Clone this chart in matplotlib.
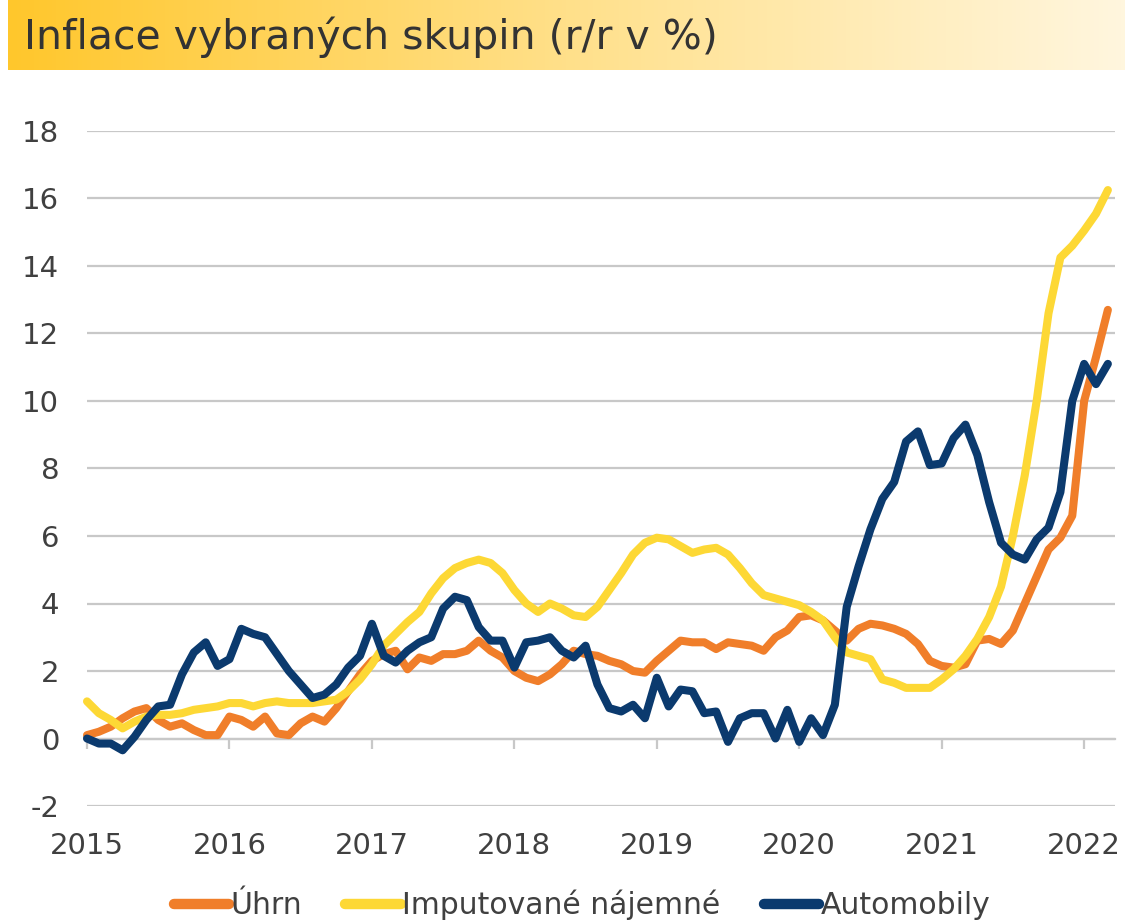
import numpy as np
import matplotlib
matplotlib.use("Agg")
import matplotlib.pyplot as plt
from matplotlib.colors import LinearSegmentedColormap

plt.rcParams["axes.unicode_minus"] = False

# --- Data: monthly y/y inflation, Jan 2015 .. Mar 2022 ----------------------
years = ["2015", "2016", "2017", "2018", "2019", "2020", "2021", "2022"]

uhrn = [
    0.1, 0.2, 0.35, 0.6, 0.8, 0.9, 0.55, 0.35, 0.45, 0.25, 0.1, 0.1,
    0.65, 0.55, 0.35, 0.65, 0.15, 0.1, 0.45, 0.65, 0.5, 0.9, 1.4, 1.9,
    2.3, 2.5, 2.6, 2.05, 2.4, 2.3, 2.5, 2.5, 2.6, 2.9, 2.6, 2.4,
    2.0, 1.8, 1.7, 1.9, 2.2, 2.6, 2.5, 2.45, 2.3, 2.2, 2.0, 1.95,
    2.3, 2.6, 2.9, 2.85, 2.85, 2.65, 2.85, 2.8, 2.75, 2.6, 3.0, 3.2,
    3.6, 3.65, 3.5, 3.2, 2.9, 3.25, 3.4, 3.35, 3.25, 3.1, 2.8, 2.3,
    2.15, 2.1, 2.2, 2.9, 2.95, 2.8, 3.2, 4.0, 4.8, 5.6, 5.95, 6.6,
    10.0, 11.3, 12.7,
]

najemne = [
    1.1, 0.75, 0.55, 0.3, 0.5, 0.65, 0.7, 0.7, 0.75, 0.85, 0.9, 0.95,
    1.05, 1.05, 0.95, 1.05, 1.1, 1.05, 1.05, 1.05, 1.1, 1.15, 1.4, 1.75,
    2.2, 2.75, 3.1, 3.45, 3.75, 4.3, 4.75, 5.05, 5.2, 5.3, 5.2, 4.9,
    4.4, 4.0, 3.75, 4.0, 3.85, 3.65, 3.6, 3.9, 4.4, 4.9, 5.45, 5.8,
    5.95, 5.9, 5.7, 5.5, 5.6, 5.65, 5.45, 5.05, 4.6, 4.25, 4.15, 4.05,
    3.95, 3.75, 3.5, 3.0, 2.55, 2.45, 2.35, 1.75, 1.65, 1.5, 1.5, 1.5,
    1.75, 2.05, 2.45, 2.95, 3.6, 4.5, 6.0, 7.8, 10.0, 12.6, 14.25, 14.6,
    15.05, 15.55, 16.25,
]

automobily = [
    0.0, -0.15, -0.15, -0.35, 0.05, 0.55, 0.95, 1.0, 1.9, 2.55, 2.85, 2.15,
    2.35, 3.25, 3.1, 3.0, 2.5, 2.0, 1.6, 1.2, 1.3, 1.6, 2.1, 2.45,
    3.4, 2.45, 2.25, 2.6, 2.85, 3.0, 3.85, 4.2, 4.1, 3.3, 2.9, 2.9,
    2.1, 2.85, 2.9, 3.0, 2.6, 2.4, 2.75, 1.6, 0.9, 0.8, 1.0, 0.6,
    1.8, 0.95, 1.45, 1.4, 0.75, 0.8, -0.1, 0.6, 0.75, 0.75, 0.0, 0.85,
    -0.1, 0.6, 0.1, 1.0, 3.9, 5.1, 6.2, 7.1, 7.6, 8.8, 9.1, 8.1,
    8.15, 8.9, 9.3, 8.4, 7.0, 5.8, 5.45, 5.3, 5.9, 6.25, 7.3, 10.0,
    11.1, 10.5, 11.1,
]

labels = ["Úhrn", "Imputované nájemné", "Automobily"]
colors = ["#F07E2A", "#FDD835", "#0B3A6E"]

months = np.arange(len(uhrn))
year_pos = np.arange(len(years)) * 12

W, H = 1125, 923
text_col = "#404040"
grid_col = "#C8C8C8"

fig = plt.figure(figsize=(W / 100, H / 100), dpi=100)

# --- Title bar with gradient ----------------------------------------------
tax = fig.add_axes([8 / W, 1 - 70 / H, 1 - 8 / W, 70 / H])
cmap = LinearSegmentedColormap.from_list("bar", ["#FFC72C", "#FFE08A", "#FFF6DE"])
tax.imshow(np.linspace(0, 1, 256).reshape(1, -1), cmap=cmap, aspect="auto",
           extent=[0, 1, 0, 1])
tax.set_axis_off()
fig.text(24 / W, 1 - 37 / H, "Inflace vybraných skupin (r/r v %)",
         fontsize=29.5, color="#333333", va="center", ha="left")

# --- Main chart -----------------------------------------------------------
ax = fig.add_axes([87 / W, 1 - 806 / H, (1115 - 87) / W, (806 - 131) / H])
for series, lab, col in zip([uhrn, najemne, automobily], labels, colors):
    ax.plot(months, series, color=col, lw=5.8, label=lab,
            solid_capstyle="round", solid_joinstyle="round", clip_on=False)

ax.set_xlim(0, 86.6)
ax.set_ylim(-2, 18)
ax.set_yticks(np.arange(-2, 19, 2))
ax.yaxis.grid(True, color=grid_col, lw=1.6)
ax.set_axisbelow(True)
for s in ["top", "right", "left"]:
    ax.spines[s].set_visible(False)
ax.spines["bottom"].set_position(("data", 0))
ax.spines["bottom"].set_color(grid_col)
ax.spines["bottom"].set_linewidth(1.6)
ax.spines["bottom"].set_zorder(0.5)
ax.set_xticks(year_pos)
ax.tick_params(axis="x", labelbottom=False, length=7, width=1.6,
               color=grid_col, direction="out")
ax.tick_params(axis="y", length=0, pad=20, labelsize=21, labelcolor=text_col)

sec = ax.secondary_xaxis(0.0)
sec.set_xticks(year_pos, years)
sec.tick_params(length=0, pad=19, labelsize=21, labelcolor=text_col)
sec.spines["bottom"].set_visible(False)

leg = fig.legend(loc="center", bbox_to_anchor=(582 / W, 1 - 905 / H),
                 ncol=3, frameon=False, fontsize=21.5, handlelength=1.85,
                 handletextpad=0.05, columnspacing=1.45)
for t in leg.get_texts():
    t.set_color(text_col)
for h in leg.legend_handles:
    h.set_linewidth(7.5)
    h.set_solid_capstyle("round")

fig.savefig("out.png", dpi=100)
